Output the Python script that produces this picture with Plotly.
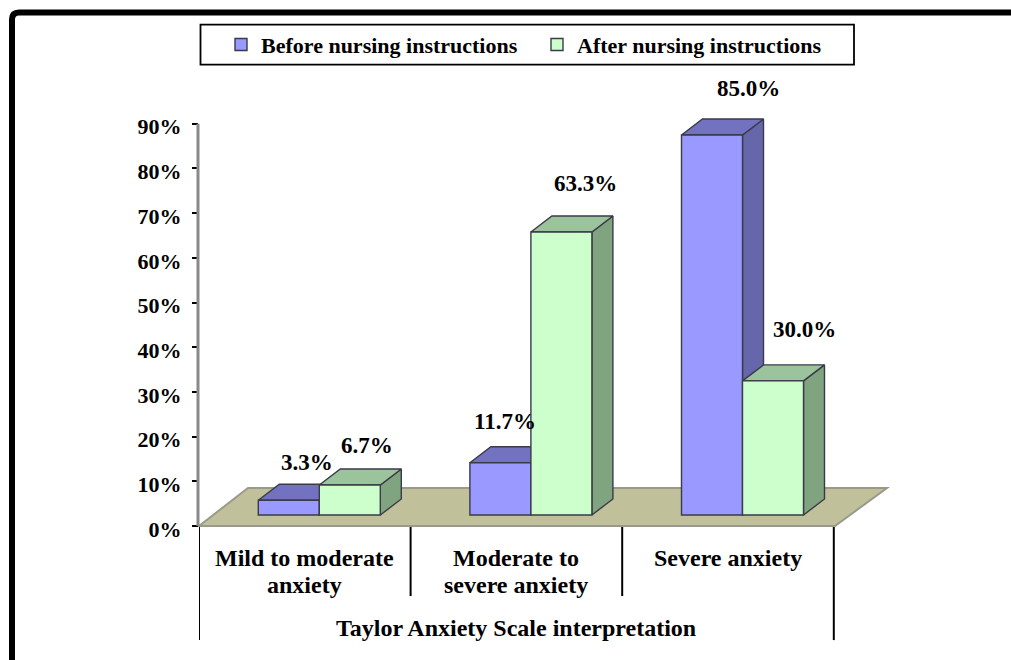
import plotly.graph_objects as go

# ---- data ----
categories = [1, 2, 3]
category_lines = [["Mild to moderate", "anxiety"], ["Moderate to", "severe anxiety"], ["Severe anxiety"]]
series_names = ["Before nursing instructions", "After nursing instructions"]
before_values = [3.3, 11.7, 85.0]
after_values = [6.7, 63.3, 30.0]
y_ticks = [0, 10, 20, 30, 40, 50, 60, 70, 80, 90]
x_title = "Taylor Anxiety Scale interpretation"

# ---- layout geometry (page pixels) ----
W, H = 1011, 660
YMAX = 100
PXY = (526 - 124) / 90.0
L, R, B = 199, 887, 526
T = B - YMAX * PXY
XMIN, XMAX = 0.5, 0.5 + (887 - 199) / 211.6
PXX = (R - L) / (XMAX - XMIN)
BAR_W = 61 / PXX
BAR_OFF = -46.5 / PXX
LIFT = 11 / PXY
DX = 21 / PXX
DY = 16 / PXY


def px(x):
    return (x - L) / (R - L)


def py(y):
    return (B - y) / (B - T)


FONT = "Liberation Serif"
EDGE = "#3a3a48"
palette = {
    0: dict(front="#9999FF", top="#7272C0", side="#6666AA"),
    1: dict(front="#CCFFCC", top="#9CC49C", side="#80A380"),
}

fig = go.Figure()


def poly(xs, ys, color, z):
    fig.add_trace(go.Scatter(x=xs + xs[:1], y=ys + ys[:1], mode="lines", fill="toself", fillcolor=color,
                             line=dict(color=EDGE, width=1.4), showlegend=False, hoverinfo="skip",
                             cliponaxis=False, zorder=z))


for s, vals in enumerate([before_values, after_values]):
    c = palette[s]
    off = BAR_OFF + s * BAR_W
    for cat, v in zip(categories, vals):
        x0, x1 = cat + off, cat + off + BAR_W
        t = v + LIFT
        poly([x1, x1, x1 + DX, x1 + DX], [LIFT, t, t + DY, LIFT + DY], c["side"], 2 * s + 1)
        poly([x0, x1, x1 + DX, x0 + DX], [t, t, t + DY, t + DY], c["top"], 2 * s + 1)
    fig.add_trace(go.Bar(x=categories, y=vals, base=LIFT, width=BAR_W, offset=off, name=series_names[s],
                         marker=dict(color=c["front"], line=dict(color=EDGE, width=1.4)),
                         zorder=2 * s + 2, cliponaxis=False))

shapes = []
# outer frame (top and left only, as in the picture)
shapes.append(dict(type="path", xref="paper", yref="paper", layer="below",
                   path=f"M {px(12)},{py(660)} L {px(12)},{py(20)} Q {px(12)},{py(13)} {px(19)},{py(13)} L {px(1011)},{py(13)}",
                   line=dict(color="black", width=6)))
# floor
shapes.append(dict(type="path", xref="paper", yref="paper", layer="below",
                   path=f"M {px(199)},{py(526)} L {px(248)},{py(488)} L {px(887)},{py(488)} L {px(835)},{py(526)} Z",
                   fillcolor="#C0C09A", line=dict(color="#9a9a8a", width=2)))
# value axis line, stopping at the last tick
shapes.append(dict(type="line", xref="paper", yref="y", x0=px(198), x1=px(198), y0=0, y1=90,
                   line=dict(color="#8a8a8a", width=3)))
# category dividers
for cat_edge, bottom in zip([0.5, 1.5, 2.5, 3.5], [640, 596, 596, 640]):
    shapes.append(dict(type="line", xref="x", yref="paper", x0=cat_edge, x1=cat_edge, y0=py(527), y1=py(bottom),
                       line=dict(color="black", width=2)))
# legend box
shapes.append(dict(type="rect", xref="paper", yref="paper", x0=px(200.5), x1=px(854), y0=py(25), y1=py(65),
                   line=dict(color="black", width=1.8), fillcolor="rgba(0,0,0,0)"))

annotations = []
tf = dict(family=FONT, size=22, color="black", weight=700)
cf = dict(family=FONT, size=24, color="black", weight=700)
vf = dict(family=FONT, size=23, color="black", weight=700)
# category labels
line_rows = [558, 585]
for cat, lines in zip(categories, category_lines):
    for row, text in zip(line_rows, lines):
        annotations.append(dict(x=cat, xref="x", y=py(row), yref="paper", text=text, showarrow=False, font=cf,
                                xanchor="center", yanchor="middle"))
annotations.append(dict(x=2, xref="x", y=py(628), yref="paper", text=x_title, showarrow=False, font=cf,
                        xanchor="center", yanchor="middle"))
# value labels, hand placed like the original
label_shift_x = [[18.5, 4.5, 36.5], [17.5, 24.5, 31.5]]
label_shift_y = [[38, 41, 47], [40, 49, 51]]
for s, vals in enumerate([before_values, after_values]):
    off = BAR_OFF + s * BAR_W + BAR_W / 2
    for i, (cat, v) in enumerate(zip(categories, vals)):
        annotations.append(dict(x=cat + off, y=v + LIFT, xref="x", yref="y", text=f"{v:.1f}%", showarrow=False,
                                font=vf, xanchor="center", yanchor="middle",
                                xshift=label_shift_x[s][i], yshift=label_shift_y[s][i]))

fig.update_layout(
    width=W, height=H, autosize=False,
    margin=dict(l=L, r=W - R, t=T, b=H - B, pad=0),
    paper_bgcolor="white", plot_bgcolor="rgba(0,0,0,0)",
    barmode="overlay", shapes=shapes, annotations=annotations,
    font=dict(family=FONT, size=22, color="black"),
    legend=dict(orientation="h", x=px(221), xanchor="left", y=py(45), yanchor="middle",
                bgcolor="rgba(0,0,0,0)", borderwidth=0, font=tf, entrywidth=271, entrywidthmode="pixels",
                traceorder="normal"),
    xaxis=dict(range=[XMIN, XMAX], showgrid=False, zeroline=False, showline=False, tickvals=[], fixedrange=True),
    yaxis=dict(range=[0, YMAX], tickvals=y_ticks, ticktext=[f"{t}%" for t in y_ticks], showgrid=False, zeroline=False,
               showline=False, ticks="outside", ticklen=6, tickwidth=2, ticklabelstandoff=6, ticklabelshift=3,
               tickcolor="black", tickfont=tf, fixedrange=True),
)

fig.write_html("out.html", config=dict(displayModeBar=False),
               post_script="document.body.style.margin='0';document.body.style.overflow='hidden';")
